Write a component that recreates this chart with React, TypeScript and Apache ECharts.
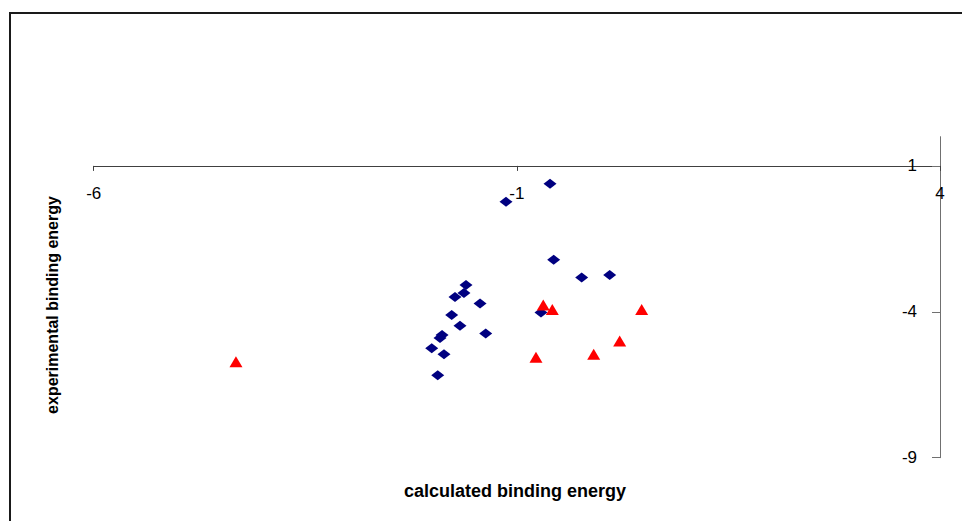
import React, { useEffect, useRef } from "react";
import * as echarts from "echarts";

const xTicks = [-6, -1, 4];
const yTicks = [-9, -4, 1];

const blueX = [-0.608, -1.128, -0.565, -0.234, 0.097, -1.601, -1.625, -1.731, -1.435, -0.715, -1.77, -1.672, -1.368, -1.884, -1.908, -2.006, -1.861, -1.935];
const blueY = [0.384, -0.233, -2.219, -2.829, -2.736, -3.086, -3.36, -3.497, -3.712, -4.021, -4.113, -4.479, -4.74, -4.798, -4.901, -5.253, -5.459, -6.178];

const redX = [-4.319, -0.688, -0.581, 0.475, 0.215, -0.092, -0.774];
const redY = [-5.712, -3.771, -3.918, -3.918, -5.003, -5.459, -5.562];

const xName = "calculated binding energy";
const yName = "experimental binding energy";

const FONT = "'Liberation Sans', Arial, sans-serif";

export default function App() {
  const ref = useRef<HTMLDivElement>(null);
  useEffect(() => {
    if (!ref.current) return;
    const chart = echarts.init(ref.current, null, { renderer: "svg" });
    const blue = blueX.map((x, i) => [x, blueY[i]]);
    const red = redX.map((x, i) => [x, redY[i]]);
    chart.setOption({
      animation: false,
      backgroundColor: "#ffffff",
      textStyle: { fontFamily: FONT },
      grid: { left: 93.7, right: 22, top: 136.7, bottom: 63.3, containLabel: false },
      xAxis: {
        type: "value",
        position: "top",
        min: -6,
        max: 4,
        interval: 5,
        offset: -29.2,
        axisLine: { onZero: false, lineStyle: { color: "#404040", width: 1 } },
        axisTick: { show: true, inside: true, length: 5, lineStyle: { color: "#404040" }, customValues: xTicks },
        axisLabel: { inside: true, margin: 19, color: "#000", fontSize: 17, fontFamily: FONT, customValues: xTicks },
        splitLine: { show: false },
      },
      yAxis: {
        type: "value",
        position: "right",
        min: -9,
        max: 2,
        interval: 5,
        axisLine: { onZero: false, lineStyle: { color: "#707070", width: 1 } },
        axisTick: { show: true, inside: true, length: 8, lineStyle: { color: "#707070" }, customValues: yTicks },
        axisLabel: { inside: true, margin: 23, color: "#000", fontSize: 17, fontFamily: FONT, customValues: yTicks },
        splitLine: { show: false },
      },
      graphic: [
        {
          type: "rect",
          shape: { x: 10, y: 13, width: 1000, height: 600 },
          style: { fill: "none", stroke: "#1a1a1a", lineWidth: 2 },
          silent: true,
        },
        {
          type: "text",
          x: 515,
          y: 491,
          style: {
            text: xName,
            fontFamily: FONT,
            fontSize: 18,
            fontWeight: "bold",
            fill: "#000",
            textAlign: "center",
            textVerticalAlign: "middle",
          },
        },
        {
          type: "text",
          x: 52,
          y: 305,
          rotation: Math.PI / 2,
          style: {
            text: yName,
            fontFamily: FONT,
            fontSize: 16,
            fontWeight: "bold",
            fill: "#000",
            textAlign: "center",
            textVerticalAlign: "middle",
          },
        },
      ],
      series: [
        {
          type: "scatter",
          data: blue,
          symbol: "diamond",
          symbolSize: [13, 10],
          itemStyle: { color: "#000080", opacity: 1 },
        },
        {
          type: "scatter",
          data: red,
          symbol: "triangle",
          symbolSize: [13, 11],
          itemStyle: { color: "#FF0000", opacity: 1 },
        },
      ],
    });
    return () => chart.dispose();
  }, []);
  return (
    <div
      ref={ref}
      style={{ position: "fixed", left: 0, top: 0, width: 962, height: 521, background: "#fff" }}
    />
  );
}
